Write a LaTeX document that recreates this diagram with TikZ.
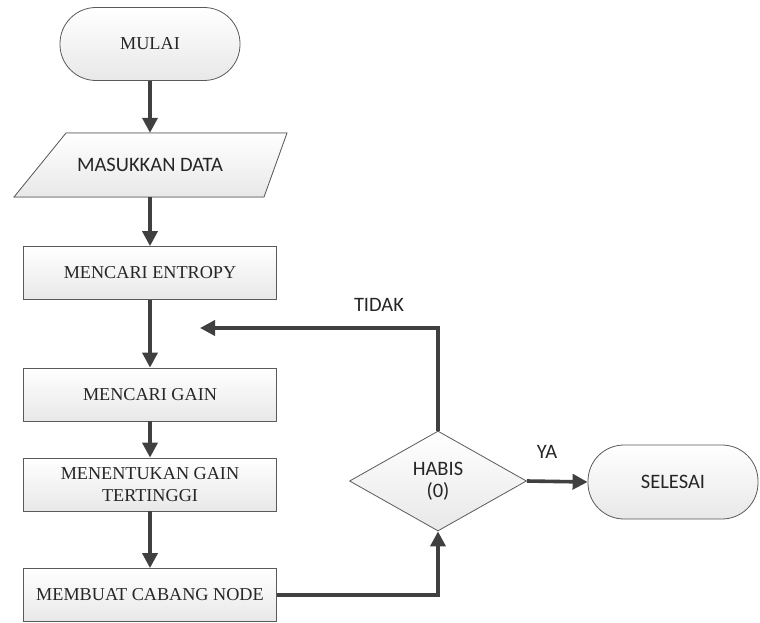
\documentclass[tikz,border=0pt]{standalone}
\usepackage{fontspec}
\setmainfont{Liberation Serif}
\newfontfamily\sansf{Carlito}
\usetikzlibrary{arrows.meta,shapes.geometric}
\definecolor{linec}{HTML}{404040}
\definecolor{edgec}{HTML}{5A5A5A}
\definecolor{textc}{HTML}{262626}
\begin{document}
\begin{tikzpicture}[x=1pt,y=-1pt,
  shade/.style={top color=white, bottom color=black!9},
  serif/.style={font=\fontsize{18.2}{21.5}\selectfont, text=textc},
  sans/.style={font=\sansf\fontsize{20.5}{22}\selectfont, text=textc},
  box/.style={shade, draw=edgec, line width=0.8pt, minimum width=253pt, minimum height=53pt,
    inner sep=0pt, align=center, serif},
  term/.style={shade, draw=edgec, line width=0.8pt, rounded corners=36pt, inner sep=0pt},
  dec/.style={diamond, shade, draw=edgec, line width=0.8pt, inner sep=0pt, minimum width=177pt,
    minimum height=100pt, align=center, sans},
  flow/.style={draw=linec, line width=3.6pt, -{Triangle[length=15pt,width=15pt]}},
]
\useasboundingbox (0,0) rectangle (760,623);

\node[term, minimum width=180pt, minimum height=73pt, serif] (mulai) at (150,44) {MULAI};

\fill[shade, draw=edgec, line width=0.8pt] (66,133) -- (287,133) -- (264,197) -- (14,197) -- cycle;
\node[inner sep=0pt, minimum width=221pt, minimum height=64pt, sans] (data) at (150,165) {MASUKKAN DATA};

\node[box] (entropy) at (150,273) {MENCARI ENTROPY};
\node[box] (gain) at (150,394.5) {MENCARI GAIN};
\node[box] (tinggi) at (150,484.5) {MENENTUKAN GAIN\\TERTINGGI};
\node[box] (cabang) at (150,595) {MEMBUAT CABANG NODE};

\node[dec] (habis) at (438,481) {HABIS\\(0)};
\node[term, minimum width=170pt, minimum height=74pt, sans] (selesai) at (673,482) {SELESAI};

\coordinate (back) at (200,328);

\draw[flow] (mulai.south) -- (data.north);
\draw[flow] (data.south) -- (entropy.north);
\draw[flow] (entropy.south) -- (gain.north);
\draw[flow] (gain.south) -- (tinggi.north);
\draw[flow] (tinggi.south) -- (cabang.north);
\draw[flow] (cabang.east) -| (habis.south);
\draw[flow] (habis.north) |- (back);
\draw[flow] (habis.east) -- (selesai.west);

\node[sans] (tidak) at (379,305) {TIDAK};
\node[sans] (ya) at (547,452) {YA};
\end{tikzpicture}
\end{document}
